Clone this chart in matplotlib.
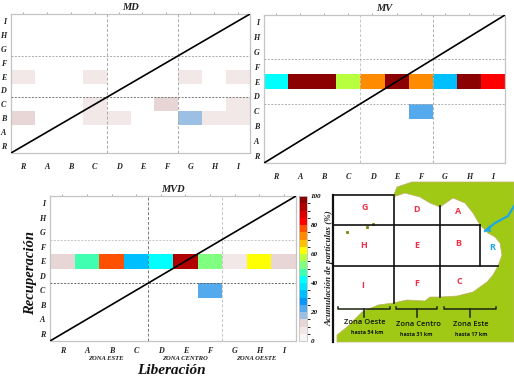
import numpy as np
import matplotlib
matplotlib.use("Agg")
from matplotlib import pyplot as plt
from matplotlib.colors import ListedColormap, BoundaryNorm
from matplotlib.patches import Polygon

W = 514
H = 379

zones = ["R", "A", "B", "C", "D", "E", "F", "G", "H", "I"]

# percent per liberation zone, only the rows that hold something
md_row_e = [7, 0, 0, 7, 0, 0, 0, 7, 0, 8]
md_row_c = [0, 0, 0, 7, 0, 0, 12, 0, 0, 7]
md_row_b = [12, 0, 0, 7, 7, 0, 0, 17, 7, 7]
mv_row_e = [42, 97, 97, 57, 72, 97, 72, 32, 97, 82]
mv_row_c = [0, 0, 0, 0, 0, 0, 22, 0, 0, 0]
mvd_row_e = [12, 47, 77, 32, 42, 92, 52, 7, 62, 12]
mvd_row_c = [0, 0, 0, 0, 0, 0, 22, 0, 0, 0]

levels = list(range(0, 105, 5))
level_colors = ["#f8f5f5", "#f2e8e8", "#e8d6d6", "#9cc0e4", "#55aaee", "#0a96f4",
                "#00bfff", "#00e4ff", "#00ffff", "#40ffb0", "#80ff80", "#b8ff40",
                "#ffff00", "#ffc000", "#ff8c00", "#ff5000", "#ff0000", "#dc0000",
                "#b00000", "#8b0000"]
cbar_ticks = [0, 20, 40, 60, 80, 100]

# map outline, in image pixels
coast_x = [393, 397, 403, 412, 514, 514, 337, 337, 347, 362, 378, 393, 407, 425, 430,
           440, 457, 473, 487, 493, 498, 502, 500, 495, 488, 480, 473, 465, 453, 440,
           430, 420, 405]
coast_y = [197, 187, 185, 182, 182, 342, 342, 335, 327, 312, 305, 303, 300, 301, 297,
           297, 296, 292, 282, 275, 266, 255, 243, 237, 233, 225, 213, 203, 198, 207,
           203, 197, 193]
river_x = [485, 495, 508, 514]
river_y = [231, 223, 216, 206]
map_letters = ["G", "D", "A", "H", "E", "B", "R", "I", "F", "C"]
letters_x = [365, 417, 458, 364, 417, 458, 492, 363, 417, 459]
letters_y = [208, 209, 212, 245, 245, 244, 247, 286, 283, 281]

cmap = ListedColormap(level_colors)
norm = BoundaryNorm(levels, cmap.N)
serif = dict(family="Liberation Serif", style="italic", weight="bold")


def addAxes(fig, left, top, right, bottom):
    return fig.add_axes([left / W, 1 - bottom / H, (right - left) / W, (bottom - top) / H])


def makeMatrix(rows):
    z = np.zeros((10, 10))
    for idx, values in rows.items():
        z[idx] = values
    return np.ma.masked_equal(z, 0)


def drawPanel(ax, title, rows, dash_v, dash_h, pad_x=7.5):
    edges = np.arange(11)
    ax.pcolormesh(edges, edges, makeMatrix(rows), cmap=cmap, norm=norm)
    ax.plot([0, 10], [0, 10], color="black", lw=1.2, solid_capstyle="butt", zorder=5)
    for pos, col in zip([4, 7], dash_v):
        ax.axvline(pos, color=col, lw=0.7, ls=(0, (3, 2)), zorder=4)
    for pos, col in zip([4, 7], dash_h):
        ax.axhline(pos, color=col, lw=0.7, ls=(0, (2, 1.5)), zorder=4)
    ax.set_xlim(0, 10)
    ax.set_ylim(0, 10)
    centers = edges[:-1] + 0.5
    ax.set_xticks(centers, zones, fontsize=5.8, **serif)
    ax.set_yticks(centers, zones, fontsize=5.8, **serif)
    ax.tick_params(axis="x", length=0, pad=pad_x, colors="#222222")
    ax.tick_params(axis="y", length=0, pad=3.5, colors="#222222")
    for s in ax.spines.values():
        s.set_color("#c4c4c4")
        s.set_linewidth(0.9)
    top = ax.secondary_xaxis("top")
    top.set_xticks(centers, [])
    top.tick_params(length=1.5, width=0.6, color="#999999")
    top.spines["top"].set_visible(False)
    ax.set_title(title, fontsize=7.5, pad=3, color="#222222", **serif)


fig = plt.figure(figsize=(W / 100, H / 100), dpi=100)

ax_md = addAxes(fig, 11, 14, 250, 153)
drawPanel(ax_md, "MD", {5: md_row_e, 3: md_row_c, 2: md_row_b},
          ["#aaaaaa", "#aaaaaa"], ["#777777", "#aaaaaa"])

ax_mv = addAxes(fig, 264, 15, 505, 163)
drawPanel(ax_mv, "MV", {5: mv_row_e, 3: mv_row_c},
          ["#c4c4c4", "#b0b0b0"], ["#b0b0b0", "#aaaaaa"])

ax_mvd = addAxes(fig, 50, 196, 296, 341)
drawPanel(ax_mvd, "MVD", {5: mvd_row_e, 3: mvd_row_c},
          ["#777777", "#c4c4c4"], ["#666666", "#c4c4c4"], pad_x=4.5)
fig.text(31 / W, 1 - 273 / H, "Recuperación", fontsize=10.5, rotation=90, ha="center", va="center",
         color="#111111", **serif)
fig.text(171 / W, 1 - 371 / H, "Liberación", fontsize=11, ha="center", va="center",
         color="#111111", **serif)
for label, x_px in zip(["ZONA ESTE", "ZONA CENTRO", "ZONA OESTE"], [106, 185, 256]):
    fig.text(x_px / W, 1 - 359 / H, label, fontsize=4.8, ha="center", va="center",
             color="#222222", **serif)

# colorbar
cax = addAxes(fig, 299, 196, 307, 341)
sm = plt.cm.ScalarMappable(norm=norm, cmap=cmap)
cb = fig.colorbar(sm, cax=cax, ticks=cbar_ticks, spacing="proportional", drawedges=False)
cb.ax.tick_params(length=0, pad=2.5)
cb.ax.set_yticks(cbar_ticks, [str(t) for t in cbar_ticks], fontsize=5, **serif)
cb.outline.set_edgecolor("#c4c4c4")
cb.outline.set_linewidth(0.6)
cb.ax.set_ylabel("Acumulación de partículas (%)", fontsize=6.5, labelpad=3, rotation=90,
                 color="#222222", **serif)

# map, drawn in image pixels
ax_map = fig.add_axes([0, 0, 1, 1], facecolor="none", zorder=-1)
ax_map.set_xlim(0, W)
ax_map.set_ylim(H, 0)
ax_map.axis("off")
ax_map.add_patch(Polygon(np.column_stack([coast_x, coast_y]), closed=True, facecolor="#9fc914",
                         edgecolor="#c2ad6a", lw=0.5))
ax_map.plot(river_x, river_y, color="#1ea7e8", lw=1.6)
ax_map.add_patch(Polygon([[484, 231], [490, 225], [491, 232]], closed=True, facecolor="#1ea7e8", lw=0))
ax_map.plot([373, 367, 347], [224, 227, 232], ls="none", marker="s", ms=1.2, color="#7d8f1c")

ax_map.plot([333, 333], [195, 342], color="#111111", lw=1.6)
grid_h = [(333, 394, 195), (333, 480, 225), (333, 498, 266)]
grid_v = [(394, 197, 303), (440, 206, 297), (480, 225, 266)]
for x0, x1, y in grid_h:
    ax_map.plot([x0, x1], [y, y], color="#111111", lw=1.2)
for x, y0, y1 in grid_v:
    ax_map.plot([x, x], [y0, y1], color="#111111", lw=1.2)

for name, x, y in zip(map_letters, letters_x, letters_y):
    ax_map.text(x, y, name, fontsize=6.5, ha="center", va="center", family="Open Sans", weight="bold",
                color="#1ea7e8" if name == "R" else "#ee3048")

brackets = [(338, 390, 364), (396, 437, 417), (444, 496, 470)]
for x0, x1, xs in brackets:
    ax_map.plot([x0, x0, x1, x1], [307, 309, 309, 307], color="#1c2410", lw=1.1)
    ax_map.plot([xs, xs], [309, 317], color="#1c2410", lw=1.1)

zone_names = ["Zona Oeste", "Zona Centro", "Zona Este"]
zone_reach = ["hasta 54 km", "hasta 31 km", "hasta 17 km"]
names_x = [365, 418, 471]
names_y = [323, 324, 325]
reach_x = [367, 416, 471]
reach_y = [333, 334, 335]
for i in range(3):
    ax_map.text(names_x[i], names_y[i], zone_names[i], fontsize=5.4, ha="center", va="center",
                family="Open Sans", weight="semibold", color="#10180a")
    ax_map.text(reach_x[i], reach_y[i], zone_reach[i], fontsize=3.9, ha="center", va="center",
                family="Open Sans", weight="bold", color="#10180a")

fig.savefig("out.png", dpi=100)
